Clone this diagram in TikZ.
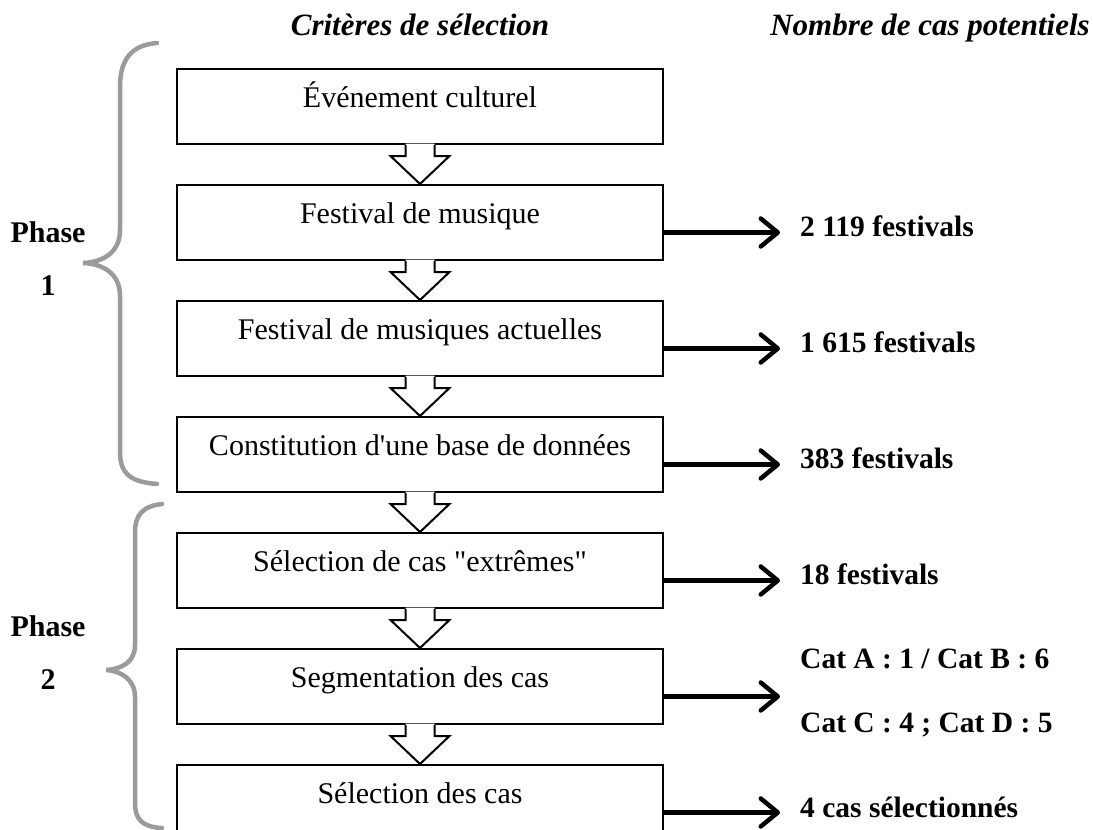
\documentclass[tikz,border=0pt]{standalone}
\usepackage{fontspec}
\setmainfont{Liberation Serif}
\newfontfamily\rawserif{Liberation Serif}
\usetikzlibrary{calc,arrows.meta}
\definecolor{bracegray}{HTML}{9B9B9B}
\tikzset{
  stepbox/.style={draw=black, line width=2pt, fill=white, minimum width=486pt, minimum height=75pt,
    inner sep=0pt, text height=20pt, text depth=19pt, anchor=north,
    font=\fontsize{30}{36}\selectfont},
  countlabel/.style={anchor=base west, inner sep=0pt, font=\fontsize{29.5}{35}\selectfont\bfseries},
  headlabel/.style={anchor=base, inner sep=0pt, font=\fontsize{31}{37}\selectfont\bfseries\itshape},
  phaselabel/.style={anchor=base, inner sep=0pt, font=\fontsize{30}{36}\selectfont\bfseries},
  outarrow/.style={line width=4.5pt, -{Straight Barb[length=17pt,width=28pt,line cap=round,line join=round]}},
  blockline/.style={draw=black, line width=2pt, line join=miter},
  bracestyle/.style={draw=bracegray, line width=4.5pt, line cap=round}
}
\newcommand\blkarrow[2]{%
  \fill[white] ($(#1.south)+(-14.5,-1.5)$) -- ($(#1.south)+(-14.5,11)$) -- ($(#1.south)+(-29.5,11)$) -- (#2.north)
     -- ($(#1.south)+(29.5,11)$) -- ($(#1.south)+(14.5,11)$) -- ($(#1.south)+(14.5,-1.5)$) -- cycle;
  \draw[blockline] ($(#1.south)+(-14.5,0)$) -- ($(#1.south)+(-14.5,11)$) -- ($(#1.south)+(-29.5,11)$) -- (#2.north)
     -- ($(#1.south)+(29.5,11)$) -- ($(#1.south)+(14.5,11)$) -- ($(#1.south)+(14.5,0)$);
}
\begin{document}
\begin{tikzpicture}[x=1pt,y=-1pt]
\clip (0,0) rectangle (1093,830);
\fill[white] (0,0) rectangle (1093,830);

% headers
\node[headlabel] (h1) at (420,35) {Critères de sélection};
\node[headlabel] (h2) at (930,35) {Nombre de cas potentiels};

% boxes
\node[stepbox] (b1) at (420,68)  {Événement culturel};
\node[stepbox] (b2) at (420,184) {Festival de musique};
\node[stepbox] (b3) at (420,300) {Festival de musiques actuelles};
\node[stepbox] (b4) at (420,416) {\rawserif Constitution d'une base de données};
\node[stepbox] (b5) at (420,532) {\rawserif Sélection de cas "extrêmes"};
\node[stepbox] (b6) at (420,648) {Segmentation des cas};
\node[stepbox] (b7) at (420,764) {Sélection des cas};

% block arrows
\blkarrow{b1}{b2}
\blkarrow{b2}{b3}
\blkarrow{b3}{b4}
\blkarrow{b4}{b5}
\blkarrow{b5}{b6}
\blkarrow{b6}{b7}

% count labels
\node[countlabel] (l2) at (800,236) {2 119 festivals};
\node[countlabel] (l3) at (800,352) {1 615 festivals};
\node[countlabel] (l4) at (800,468) {383 festivals};
\node[countlabel] (l5) at (800,584) {18 festivals};
\node[countlabel] (l6a) at (800,668) {Cat A : 1 / Cat B : 6};
\node[countlabel] (l6b) at (800,732) {Cat C : 4 ; Cat D : 5};
\node[countlabel] (l7) at (800,817) {4 cas sélectionnés};

% right arrows
\foreach \b in {b2,b3,b4,b5,b6,b7}{
  \coordinate (\b s) at ($(\b.east)+(0,10)$);
  \coordinate (\b e) at ($(\b.east)+(116,10)$);
  \draw[outarrow] (\b s) -- (\b e);
}

% phase labels
\node[phaselabel] (p1) at (48,242) {Phase};
\node[phaselabel] (p1n) at (48,295) {1};
\node[phaselabel] (p2) at (48,636) {Phase};
\node[phaselabel] (p2n) at (48,689) {2};

% braces
\draw[bracestyle] (157,43) .. controls (131,45) and (120,60) .. (120,87) -- (120,230)
  .. controls (120,252) and (104,262) .. (83,263)
  .. controls (104,264) and (120,274) .. (120,296) -- (120,452)
  .. controls (120,474) and (131,482) .. (157,484);
\draw[bracestyle] (162,504) .. controls (142,506) and (135,516) .. (135,532) -- (135,645)
  .. controls (135,662) and (122,669) .. (106,670)
  .. controls (122,671) and (135,680) .. (135,697) -- (135,803)
  .. controls (135,819) and (142,827) .. (162,828);
\end{tikzpicture}
\end{document}
